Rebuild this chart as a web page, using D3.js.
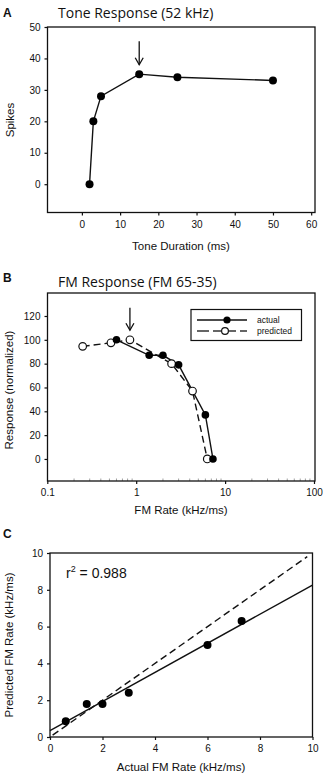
<!DOCTYPE html>
<html>
<head>
<meta charset="utf-8">
<script src="https://cdn.jsdelivr.net/npm/d3@7"></script>
<style>
  body { margin: 0; background: #fff; }
  text { font-family: "Liberation Sans", Arial, sans-serif; fill: #111; }
  .title { font-family: "Open Sans", "Noto Sans", sans-serif; font-size: 14px; }
  .panel { font-weight: bold; font-size: 12px; }
  .tick text { font-size: 10px; }
  .atitle { font-size: 11.5px; }
</style>
</head>
<body>
<script>
var w = 323;
var h = 777;

// Panel A: tone response
var toneDuration = [2, 3, 5, 15, 25, 50];
var toneSpikes   = [0, 20, 28, 35, 34, 33];
var toneTicksX = [0, 10, 20, 30, 40, 50, 60];
var toneTicksY = [0, 10, 20, 30, 40, 50];

// Panel B: FM response
var fmActualRate   = [0.6, 1.4, 2, 3, 6, 7.3];
var fmActualResp   = [100, 87, 87, 79, 37, 0];
var fmPredRate     = [0.25, 0.52, 0.85, 2.5, 4.3, 6.3];
var fmPredResp     = [94.5, 97.5, 100, 80, 57, 0];
var fmTicksX = [0.1, 1, 10, 100];
var fmTicksY = [0, 20, 40, 60, 80, 100, 120];

// Panel C: actual vs predicted
var cActual    = [0.6, 1.4, 2, 3, 6, 7.3];
var cPredicted = [0.85, 1.8, 1.8, 2.4, 5, 6.3];
var cTicks = [0, 2, 4, 6, 8, 10];

var svg = d3.select("body")
    .append("svg")
    .attr("width", w)
    .attr("height", h);

function frame(g, x0, x1, y0, y1) {
    g.append("rect")
        .attr("x", x0).attr("y", y0)
        .attr("width", x1 - x0).attr("height", y1 - y0)
        .attr("fill", "none").attr("stroke", "#111").attr("stroke-width", 1.3);
}

function styleAxis(sel) {
    sel.select(".domain").remove();
    sel.selectAll(".tick line").attr("stroke", "#111").attr("stroke-width", 1.2);
}

function zip(a, b) {
    return a.map(function(d, i) { return [d, b[i]]; });
}

function arrow(g, x, yTop, yBot) {
    g.append("line").attr("x1", x).attr("x2", x).attr("y1", yTop).attr("y2", yBot)
        .attr("stroke", "#111").attr("stroke-width", 1.3);
    g.append("path")
        .attr("d", "M" + (x - 4) + "," + (yBot - 7) + "L" + x + "," + yBot + "L" + (x + 4) + "," + (yBot - 7))
        .attr("fill", "none").attr("stroke", "#111").attr("stroke-width", 1.3);
}

// ---------- A ----------
var gA = svg.append("g");
var xA = d3.scaleLinear().domain([-9, 61]).range([47.5, 315]);
var yA = d3.scaleLinear().domain([-9, 50]).range([212.5, 27]);

gA.append("text").attr("class", "panel").attr("x", 3).attr("y", 17).text("A");
gA.append("text").attr("class", "title").attr("x", 58).attr("y", 17.5).text("Tone Response (52 kHz)");

gA.append("g").attr("transform", "translate(0,212.5)")
    .call(d3.axisBottom(xA).tickValues(toneTicksX).tickSize(3).tickPadding(5))
    .call(styleAxis);
gA.append("g").attr("transform", "translate(47.5,0)")
    .call(d3.axisLeft(yA).tickValues(toneTicksY).tickSize(3).tickPadding(4))
    .call(styleAxis);
frame(gA, 47.5, 315, 27, 212.5);

gA.append("path")
    .datum(zip(toneDuration, toneSpikes))
    .attr("d", d3.line().x(function(d) { return xA(d[0]); }).y(function(d) { return yA(d[1]); }))
    .attr("fill", "none").attr("stroke", "#111").attr("stroke-width", 1.4);
gA.selectAll("circle")
    .data(zip(toneDuration, toneSpikes))
    .enter().append("circle")
    .attr("cx", function(d) { return xA(d[0]); })
    .attr("cy", function(d) { return yA(d[1]); })
    .attr("r", 4).attr("fill", "#000");
arrow(gA, xA(15), yA(45.5), yA(38));

gA.append("text").attr("class", "atitle").attr("text-anchor", "middle")
    .attr("x", 181).attr("y", 250).text("Tone Duration (ms)");
gA.append("text").attr("class", "atitle").attr("text-anchor", "middle")
    .attr("transform", "translate(14,120) rotate(-90)").text("Spikes");

// ---------- B ----------
var gB = svg.append("g");
var xB = d3.scaleLog().domain([0.1, 100]).range([47.3, 314]);
var yB = d3.scaleLinear().domain([-18.5, 139.3]).range([481, 293]);

gB.append("text").attr("class", "panel").attr("x", 3).attr("y", 282).text("B");
gB.append("text").attr("class", "title").attr("x", 58).attr("y", 286.5).text("FM Response (FM 65-35)");

// minor log ticks
var minor = [];
[0.1, 1, 10].forEach(function(base) {
    for (var k = 2; k <= 9; k++) minor.push(base * k);
});
gB.selectAll(".minor")
    .data(minor)
    .enter().append("line")
    .attr("class", "minor")
    .attr("x1", function(d) { return xB(d); }).attr("x2", function(d) { return xB(d); })
    .attr("y1", 481).attr("y2", 478.5)
    .attr("stroke", "#888").attr("stroke-width", 0.8);

gB.append("g").attr("transform", "translate(0,481)")
    .call(d3.axisBottom(xB).tickValues(fmTicksX).tickFormat(d3.format("~g")).tickSize(3).tickPadding(5))
    .call(styleAxis);
gB.append("g").attr("transform", "translate(47.5,0)")
    .call(d3.axisLeft(yB).tickValues(fmTicksY).tickSize(3).tickPadding(4))
    .call(styleAxis);
frame(gB, 47.5, 315, 293, 481);

var lineB = d3.line().x(function(d) { return xB(d[0]); }).y(function(d) { return yB(d[1]); });
gB.append("path")
    .datum(zip(fmPredRate, fmPredResp))
    .attr("d", lineB)
    .attr("fill", "none").attr("stroke", "#111").attr("stroke-width", 1.4)
    .attr("stroke-dasharray", "7,4");
gB.append("path")
    .datum(zip(fmActualRate, fmActualResp))
    .attr("d", lineB)
    .attr("fill", "none").attr("stroke", "#111").attr("stroke-width", 1.4);
gB.selectAll(".pred")
    .data(zip(fmPredRate, fmPredResp))
    .enter().append("circle")
    .attr("class", "pred")
    .attr("cx", function(d) { return xB(d[0]); })
    .attr("cy", function(d) { return yB(d[1]); })
    .attr("r", 3.8).attr("fill", "#fff").attr("stroke", "#111").attr("stroke-width", 1.2);
gB.selectAll(".act")
    .data(zip(fmActualRate, fmActualResp))
    .enter().append("circle")
    .attr("class", "act")
    .attr("cx", function(d) { return xB(d[0]); })
    .attr("cy", function(d) { return yB(d[1]); })
    .attr("r", 3.8).attr("fill", "#000");
arrow(gB, xB(0.85), yB(127), yB(108));

// legend
var lg = gB.append("g");
lg.append("rect").attr("x", 191).attr("y", 309.5).attr("width", 110.5).attr("height", 31)
    .attr("fill", "#fff").attr("stroke", "#111").attr("stroke-width", 1.2);
lg.append("line").attr("x1", 197).attr("x2", 247).attr("y1", 320).attr("y2", 320)
    .attr("stroke", "#111").attr("stroke-width", 1.3);
lg.append("circle").attr("cx", 227).attr("cy", 320).attr("r", 3.6).attr("fill", "#000");
[[197, 209], [213, 221], [229, 236], [240, 247]].forEach(function(s) {
    lg.append("line").attr("x1", s[0]).attr("x2", s[1]).attr("y1", 331).attr("y2", 331)
        .attr("stroke", "#111").attr("stroke-width", 1.3);
});
lg.append("circle").attr("cx", 225).attr("cy", 331).attr("r", 3.4)
    .attr("fill", "#fff").attr("stroke", "#111").attr("stroke-width", 1.2);
lg.append("text").attr("x", 257).attr("y", 323).style("font-size", "8.5px").text("actual");
lg.append("text").attr("x", 257).attr("y", 334).style("font-size", "8.5px").text("predicted");

gB.append("text").attr("class", "atitle").attr("text-anchor", "middle")
    .attr("x", 181).attr("y", 514).text("FM Rate (kHz/ms)");
gB.append("text").attr("class", "atitle").attr("text-anchor", "middle")
    .attr("transform", "translate(13,390) rotate(-90)").text("Response (normalized)");

// ---------- C ----------
var gC = svg.append("g");
var xC = d3.scaleLinear().domain([0, 10]).range([50, 312.5]);
var yC = d3.scaleLinear().domain([0, 10]).range([737, 553]);

gC.append("text").attr("class", "panel").attr("x", 3).attr("y", 538).text("C");

gC.append("g").attr("transform", "translate(0,737)")
    .call(d3.axisBottom(xC).tickValues(cTicks).tickSize(3).tickPadding(5))
    .call(styleAxis);
gC.append("g").attr("transform", "translate(50,0)")
    .call(d3.axisLeft(yC).tickValues(cTicks).tickSize(3).tickPadding(4))
    .call(styleAxis);
frame(gC, 50, 312.5, 553, 737);

// least-squares fit of predicted on actual
var mx = d3.mean(cActual), my = d3.mean(cPredicted);
var sxy = d3.sum(cActual, function(d, i) { return (d - mx) * (cPredicted[i] - my); });
var sxx = d3.sum(cActual, function(d) { return (d - mx) * (d - mx); });
var slope = sxy / sxx, icpt = my - slope * mx;

gC.append("line")
    .attr("x1", xC(0.1)).attr("y1", yC(0.1)).attr("x2", xC(9.8)).attr("y2", yC(9.8))
    .attr("stroke", "#111").attr("stroke-width", 1.4).attr("stroke-dasharray", "7,4");
gC.append("line")
    .attr("x1", xC(0)).attr("y1", yC(icpt)).attr("x2", xC(10)).attr("y2", yC(icpt + slope * 10))
    .attr("stroke", "#111").attr("stroke-width", 1.4);
gC.selectAll(".pt")
    .data(zip(cActual, cPredicted))
    .enter().append("circle")
    .attr("class", "pt")
    .attr("cx", function(d) { return xC(d[0]); })
    .attr("cy", function(d) { return yC(d[1]); })
    .attr("r", 4).attr("fill", "#000");

var r2 = gC.append("text").attr("x", 66).attr("y", 578).style("font-size", "14px");
r2.append("tspan").text("r");
r2.append("tspan").attr("dy", -6).style("font-size", "9px").text("2");
r2.append("tspan").attr("dy", 6).text(" = 0.988");

gC.append("text").attr("class", "atitle").attr("text-anchor", "middle")
    .attr("x", 181).attr("y", 771).text("Actual FM Rate (kHz/ms)");
gC.append("text").attr("class", "atitle").attr("text-anchor", "middle")
    .attr("transform", "translate(13,645) rotate(-90)").text("Predicted FM Rate (kHz/ms)");
</script>
</body>
</html>
